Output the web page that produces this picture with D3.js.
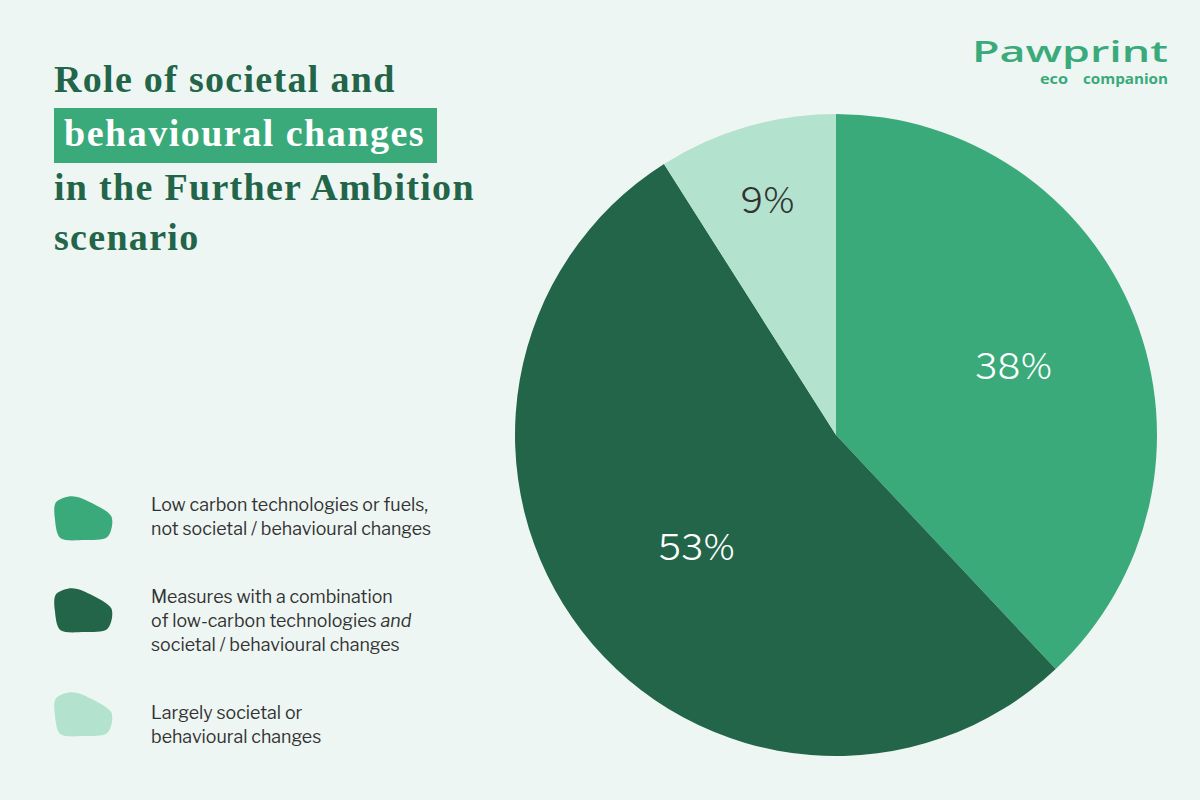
<!DOCTYPE html>
<html><head><meta charset="utf-8">
<script src="https://cdn.jsdelivr.net/npm/d3@7"></script>
<style>
html,body{margin:0;padding:0;background:#eef6f3;}
svg{display:block;}
</style></head>
<body>
<svg id="chart" width="1200" height="800"></svg>
<script>
const categories = [
  "Low carbon technologies or fuels, not societal / behavioural changes",
  "Measures with a combination of low-carbon technologies and societal / behavioural changes",
  "Largely societal or behavioural changes"
];
const values = [38, 53, 9];
const valueLabels = ["38%", "53%", "9%"];
const colors = ["#3aaa7b", "#226549", "#b3e2cf"];
const labelColors = ["#ffffff", "#ffffff", "#333333"];
const legendLines = [
  [["Low carbon technologies or fuels,"], ["not societal / behavioural changes"]],
  [["Measures with a combination"], ["of low-carbon technologies ", ["and", true]], ["societal / behavioural changes"]],
  [["Largely societal or"], ["behavioural changes"]]
];
const titleLines = ["Role of societal and", "behavioural changes", "in the Further Ambition", "scenario"];

const svg = d3.select("#chart");
svg.append("rect").attr("width",1200).attr("height",800).attr("fill","#eef6f3");

// Title
const titleFont = "'Liberation Serif', 'DejaVu Serif', serif";
const tg = svg.append("g");
tg.append("rect").attr("x",54).attr("y",108).attr("width",383).attr("height",55).attr("fill","#3aaa7b");
const tys = [92, 146, 200, 250];
titleLines.forEach((t,i)=>{
  tg.append("text").attr("x", i===1 ? 64 : 54).attr("y", tys[i])
    .attr("font-family", titleFont).attr("font-size", 38).attr("font-weight", 700)
    .attr("letter-spacing", i===1 ? 1.5 : 1.3)
    .attr("fill", i===1 ? "#ffffff" : "#226549").text(t);
});

// Logo
const lg = svg.append("g");
lg.append("text").attr("x",972).attr("y",62)
  .attr("font-family","'Open Sans', Lato, sans-serif").attr("font-size",29).attr("font-weight",600)
  .attr("textLength",196).attr("lengthAdjust","spacingAndGlyphs")
  .attr("fill","#3aaa7b").text("Pawprint");
lg.append("text").attr("x",1040).attr("y",84)
  .attr("font-family","'Open Sans', sans-serif").attr("font-size",14).attr("font-weight",700)
  .attr("textLength",28).attr("lengthAdjust","spacingAndGlyphs")
  .attr("fill","#3aaa7b").text("eco");
lg.append("text").attr("x",1083).attr("y",84)
  .attr("font-family","'Open Sans', sans-serif").attr("font-size",14).attr("font-weight",700)
  .attr("textLength",85).attr("lengthAdjust","spacingAndGlyphs")
  .attr("fill","#3aaa7b").text("companion");

// Pie
const cx = 836, cy = 435, r = 321;
const pie = d3.pie().sort(null).value(d=>d)(values);
const arc = d3.arc().innerRadius(0).outerRadius(r);
const pg = svg.append("g").attr("transform",`translate(${cx},${cy})`);
pg.selectAll("path").data(pie).join("path").attr("d",arc).attr("fill",(d,i)=>colors[i]);
const labelRadii = [0.595, 0.565, 0.765];
pg.selectAll("text.val").data(pie).join("text").attr("class","val")
  .attr("transform",(d,i)=>{
    const a = d3.arc().innerRadius(r*labelRadii[i]).outerRadius(r*labelRadii[i]);
    const c = a.centroid(d); return `translate(${c[0] + (i===1 ? 4 : 0)},${c[1]})`;
  })
  .attr("text-anchor","middle").attr("dy","0.4em")
  .attr("font-family","'Libre Franklin','Inter','Lato',sans-serif").attr("font-size",35).attr("font-weight",300)
  .attr("fill",(d,i)=>labelColors[i]).text((d,i)=>valueLabels[i]);

// Legend
const blob = d3.line().curve(d3.curveCardinalClosed.tension(0.1));
const blobPts = [[0,0.12],[0.28,-0.02],[0.6,0.12],[0.97,0.45],[0.9,0.93],[0.5,1.0],[0.08,0.96],[-0.02,0.5]];
const legY = [497, 589, 693];
const textY = [[511,535],[603,627,651],[719,743]];
const leg = svg.append("g");
categories.forEach((c,i)=>{
  leg.append("path").attr("transform",`translate(56,${legY[i]})`)
    .attr("d", blob(blobPts.map(p=>[p[0]*57, p[1]*43]))).attr("fill",colors[i]);
  legendLines[i].forEach((line,j)=>{
    const t = leg.append("text").attr("x",151).attr("y",textY[i][j])
      .attr("font-family","'Libre Franklin','Inter','Lato',sans-serif").attr("font-size",17.8)
      .attr("fill","#333333");
    line.forEach(seg=>{
      if (Array.isArray(seg)) t.append("tspan").attr("font-style","italic").text(seg[0]);
      else t.append("tspan").text(seg);
    });
  });
});
</script>
</body></html>
